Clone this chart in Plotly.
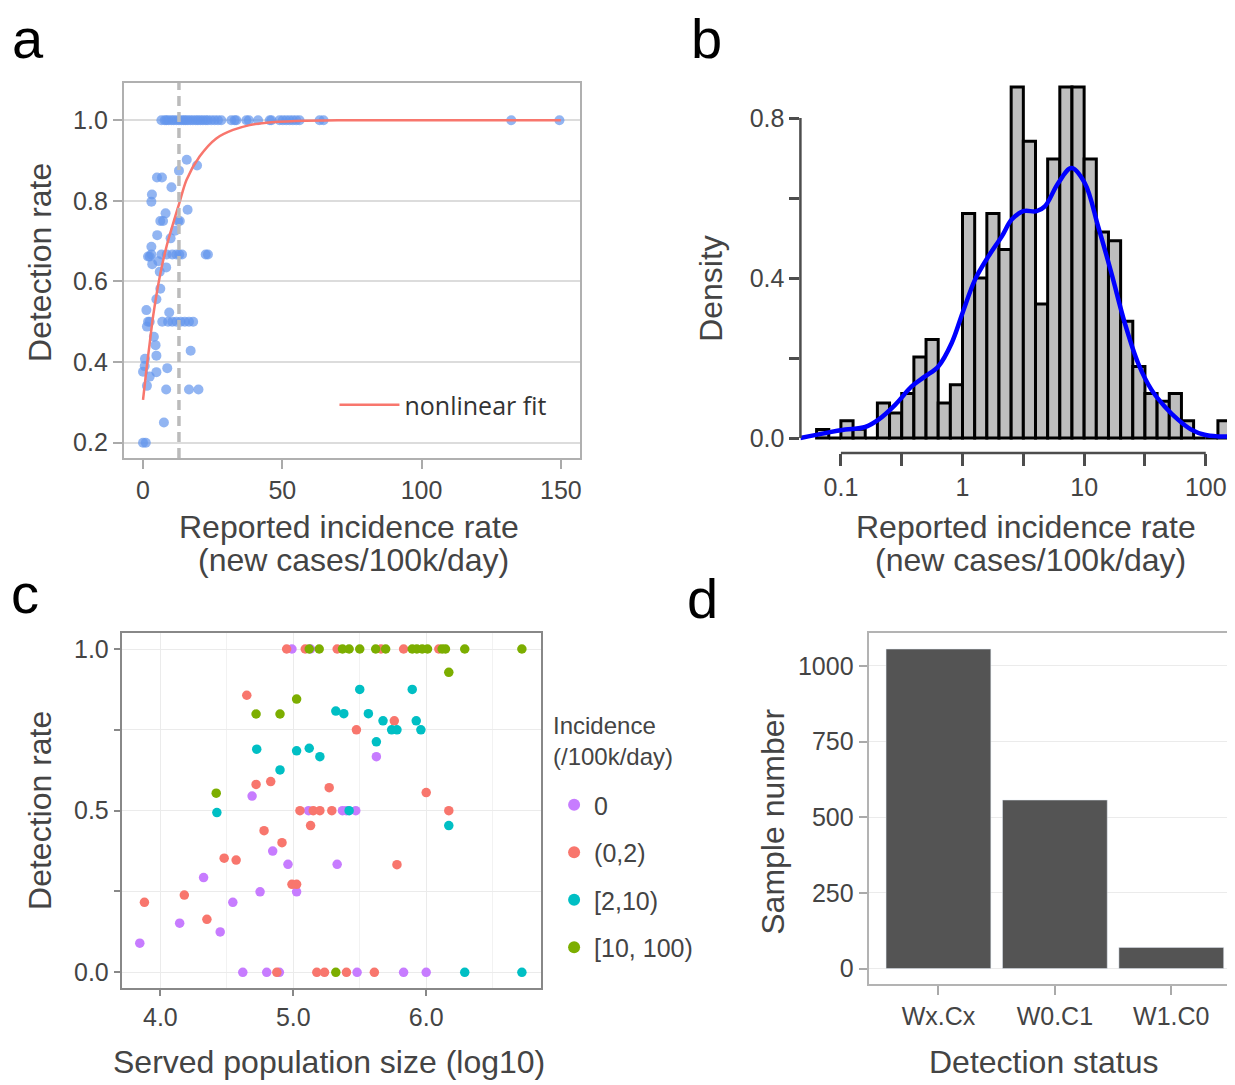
import plotly.graph_objects as go

# ---- panel a: detection rate vs reported incidence ----
a_inc = [6.6, 7.8, 8.4, 9.2, 10.2, 11.0, 12.0, 12.9, 13.8, 14.6, 15.3, 16.1, 17.0, 17.9,
         18.9, 19.7, 20.6, 21.5, 22.5, 23.3, 24.5, 25.7, 26.9, 28.1, 31.7, 32.9, 33.5,
         37.1, 38.0, 41.3, 45.5, 46.1, 49.0, 50.2, 51.4, 52.6, 53.8, 55.0, 56.2, 63.4,
         64.8, 132.2, 149.5,
         0.0, 1.0, 7.5, 1.4, 8.3, 16.5, 19.9, 4.8, 2.4, 8.7, 0.0, 0.6, 0.7, 17.1, 4.8,
         4.5, 3.9, 1.4, 1.8, 2.4, 6.9, 9.0, 10.5, 12.0, 13.5, 15.0, 16.5, 18.0, 1.2, 9.4,
         4.8, 6.2, 6.0, 8.3, 3.3, 5.5, 1.8, 2.4, 3.0, 6.6, 8.5, 10.5, 12.0, 13.0, 14.0,
         22.5, 23.3, 3.0, 5.1, 9.9, 11.5, 6.2, 7.2, 12.6, 13.2, 8.1, 16.0, 3.0, 3.2, 10.2,
         5.0, 6.8, 12.9, 15.7, 19.4]
a_rate = [1.0] * 43 + \
         [0.2, 0.2, 0.25, 0.341, 0.332, 0.332, 0.332, 0.375, 0.364, 0.385, 0.376, 0.39,
          0.408, 0.428, 0.416, 0.442, 0.463, 0.488, 0.5, 0.5, 0.5, 0.5, 0.5, 0.5, 0.5,
          0.5, 0.5, 0.5, 0.529, 0.523, 0.556, 0.582, 0.624, 0.635, 0.643, 0.65, 0.662,
          0.662, 0.667, 0.667, 0.667, 0.667, 0.667, 0.667, 0.667, 0.667, 0.667, 0.686,
          0.715, 0.707, 0.726, 0.75, 0.75, 0.75, 0.75, 0.769, 0.778, 0.798, 0.816, 0.834,
          0.858, 0.858, 0.875, 0.902, 0.888]
fit_x = [0, 1.2, 2.4, 3.6, 6, 8.4, 13, 15.6, 20.3, 26.3, 32.3, 38.3, 44.3, 55, 70, 100, 150]
fit_y = [0.306, 0.38, 0.447, 0.513, 0.612, 0.686, 0.794, 0.852, 0.91, 0.955, 0.976,
         0.988, 0.994, 0.998, 1.0, 1.0, 1.0]
threshold = 12.9

# ---- panel b: histogram of log10 incidence with density ----
bin_lo = [-1.2, -1.1, -1.0, -0.9, -0.8, -0.7, -0.6, -0.5, -0.4, -0.3, -0.2, -0.1,
          0.0, 0.1, 0.2, 0.3, 0.4, 0.5, 0.6, 0.7, 0.8, 0.9, 1.0, 1.1, 1.2, 1.3, 1.4,
          1.5, 1.6, 1.7, 1.8, 1.9, 2.0, 2.1]
bin_dens = [0.021, 0.0, 0.043, 0.022, 0.0, 0.0875, 0.0625, 0.111, 0.2025, 0.246,
            0.0875, 0.133, 0.561, 0.40, 0.561, 0.471, 0.8775, 0.742, 0.335, 0.6975,
            0.8775, 0.8775, 0.6975, 0.515, 0.493, 0.292, 0.179, 0.111, 0.092, 0.111,
            0.043, 0.0, 0.0, 0.043]
kde_x = [-1.334, -1.101, -0.964, -0.8, -0.691, -0.554, -0.418, -0.308, -0.199, -0.089,
         0.0, 0.103, 0.213, 0.323, 0.404, 0.499, 0.609, 0.677, 0.787, 0.896, 1.005,
         1.115, 1.224, 1.334, 1.443, 1.553, 1.662, 1.772, 1.881, 1.99, 2.1, 2.223]
kde_y = [0.0, 0.014, 0.021, 0.0275, 0.046, 0.083, 0.129, 0.154, 0.179, 0.2375, 0.3125,
         0.396, 0.454, 0.504, 0.546, 0.567, 0.567, 0.579, 0.6375, 0.675, 0.6375, 0.529,
         0.4125, 0.2875, 0.1875, 0.121, 0.079, 0.046, 0.021, 0.008, 0.004, 0.004]
log_ticks = [-1, -0.5, 0, 0.5, 1, 1.5, 2]
log_labels = ['0.1', '', '1', '', '10', '', '100']

# ---- panel c: detection rate vs served population, by incidence class ----
groups = ['0', '(0,2)', '[2,10)', '[10, 100)']
group_colors = ['#C77CFF', '#F8766D', '#00BFC4', '#7CAE00']
c_pop = [
    [4.99, 5.13, 5.625, 4.69, 5.115, 5.37, 5.40, 5.47, 4.845, 4.96, 5.33, 4.325, 4.75,
     5.025, 4.545, 4.145, 4.45, 3.845, 4.62, 4.80, 4.895, 5.48, 5.83, 6.0],
    [4.95, 5.09, 5.33, 5.66, 5.83, 6.095, 4.65, 5.76, 5.475, 4.72, 4.83, 5.27, 6.0,
     5.05, 5.15, 5.20, 5.29, 6.17, 5.13, 4.78, 4.915, 4.48, 4.57, 5.78, 4.99, 5.025,
     4.18, 3.88, 4.35, 4.876, 5.177, 5.235, 5.40, 5.61],
    [5.50, 5.895, 5.32, 5.38, 5.565, 5.675, 5.925, 5.74, 5.78, 5.96, 5.625, 4.725,
     5.025, 5.12, 5.20, 4.90, 4.425, 5.42, 6.17, 6.29, 6.72],
    [5.12, 5.195, 5.37, 5.42, 5.50, 5.62, 5.695, 5.895, 5.93, 5.97, 6.01, 6.12, 6.145,
     6.29, 6.72, 6.17, 5.025, 4.72, 4.90, 4.42, 5.32],
]
c_rate = [
    [1.0, 1.0, 0.667, 0.545, 0.5, 0.5, 0.5, 0.5, 0.375, 0.334, 0.334, 0.293, 0.249,
     0.249, 0.2165, 0.152, 0.125, 0.09, 0, 0, 0, 0, 0, 0],
    [1.0, 1.0, 1.0, 1.0, 1.0, 1.0, 0.857, 0.778, 0.75, 0.581, 0.59, 0.571, 0.556, 0.5,
     0.5, 0.5, 0.5, 0.5, 0.454, 0.438, 0.401, 0.353, 0.347, 0.333, 0.272, 0.272, 0.239,
     0.2165, 0.164, 0, 0, 0, 0, 0],
    [0.875, 0.875, 0.808, 0.80, 0.80, 0.778, 0.778, 0.75, 0.75, 0.75, 0.713, 0.69,
     0.685, 0.693, 0.667, 0.626, 0.494, 0.5, 0.454, 0, 0],
    [1.0] * 15 + [0.928, 0.845, 0.799, 0.799, 0.554, 0],
]

# ---- panel d: samples per detection status ----
status = ['Wx.Cx', 'W0.C1', 'W1.C0']
n_samples = [1056, 557, 70]

# the page body adds an 8px margin, so the figure is drawn that much smaller
OFF = 8
W, H = 1235 - OFF, 1085 - OFF
SANS = 'Liberation Sans, Arial, sans-serif'
TXT = '#444444'
TITLE_SIZE = 32


def px(p):
    return (p - OFF) / W


def py(p):
    return 1 - (p - OFF) / H


fig = go.Figure()

# panel a
fig.add_trace(go.Scatter(x=a_inc, y=a_rate, mode='markers', xaxis='x', yaxis='y',
                         marker=dict(color='#6495ED', size=10, opacity=0.7),
                         showlegend=False, hoverinfo='x+y'))
fig.add_trace(go.Scatter(x=fit_x, y=fit_y, mode='lines', xaxis='x', yaxis='y',
                         line=dict(color='#F8766D', width=2.5, shape='spline', smoothing=0.8),
                         name='nonlinear fit', legend='legend2'))

# panel b
fig.add_trace(go.Bar(x=[b + 0.05 for b in bin_lo], y=bin_dens, width=0.1,
                     xaxis='x2', yaxis='y2', showlegend=False,
                     marker=dict(color='#BEBEBE', line=dict(color='black', width=3))))
fig.add_trace(go.Scatter(x=kde_x, y=kde_y, mode='lines', xaxis='x2', yaxis='y2',
                         line=dict(color='#0000FF', width=4.5, shape='spline'),
                         showlegend=False))

# panel c
for g, col, xs, ys in zip(groups, group_colors, c_pop, c_rate):
    fig.add_trace(go.Scatter(x=xs, y=ys, mode='markers', xaxis='x3', yaxis='y3',
                             name=g, legendgroup=g, legend='legend',
                             marker=dict(color=col, size=9.5)))

# panel d
fig.add_trace(go.Bar(x=status, y=n_samples, width=0.9, xaxis='x4', yaxis='y4',
                     marker=dict(color='#545454'), showlegend=False))

tick_font = dict(family=SANS, size=25, color=TXT)

fig.update_layout(
    width=W, height=H,
    margin=dict(l=0, r=0, t=0, b=0),
    paper_bgcolor='white', plot_bgcolor='white',
    xaxis=dict(domain=[px(124), px(580.7)], anchor='y', range=[-6.9, 156.8],
               tickvals=[0, 50, 100, 150], ticks='outside', ticklen=9, tickwidth=2,
               tickcolor='#AAAAAA', showline=True, mirror=True, linecolor='#B0B0B0',
               linewidth=2, showgrid=False, zeroline=False, tickfont=tick_font),
    yaxis=dict(domain=[py(458), py(83)], anchor='x', range=[0.162, 1.0925],
               tickvals=[0.2, 0.4, 0.6, 0.8, 1.0],
               ticktext=['0.2', '0.4', '0.6', '0.8', '1.0'],
               ticks='outside', ticklen=9, tickwidth=2, tickcolor='#AAAAAA',
               showline=True, mirror=True, linecolor='#B0B0B0', linewidth=2,
               showgrid=True, gridcolor='#DCDCDC', gridwidth=1.5, zeroline=False,
               tickfont=tick_font),
    xaxis2=dict(domain=[px(801.7), 1.0], anchor='y2', range=[-1.333, 2.224],
                tickvals=log_ticks, ticktext=log_labels, ticks='outside', ticklen=12,
                tickwidth=2.5, tickcolor='#4D4D4D', showline=False, showgrid=False,
                zeroline=False, tickfont=tick_font),
    yaxis2=dict(domain=[py(453), py(70)], anchor='x2', range=[-0.0375, 0.92],
                tickvals=[0, 0.2, 0.4, 0.6, 0.8], ticktext=['0.0', '', '0.4', '', '0.8'],
                ticks='outside', ticklen=10, tickwidth=2.5, tickcolor='#4D4D4D',
                showline=False, showgrid=False, zeroline=False, tickfont=tick_font),
    xaxis3=dict(domain=[px(121.7), px(542.3)], anchor='y3', range=[3.7075, 6.867],
                tickvals=[4, 5, 6], ticktext=['4.0', '5.0', '6.0'], ticks='outside',
                ticklen=6, tickwidth=1.5, tickcolor='#888888', showline=True, mirror=True,
                linecolor='#888888', linewidth=1.5, showgrid=True, gridcolor='#EBEBEB',
                minor=dict(tickvals=[4.5, 5.5, 6.5], showgrid=True, gridcolor='#F2F2F2',
                           ticks=''),
                zeroline=False, tickfont=tick_font),
    yaxis3=dict(domain=[py(988.3), py(633.3)], anchor='x3', range=[-0.0495, 1.0486],
                tickvals=[0, 0.25, 0.5, 0.75, 1.0], ticktext=['0.0', '', '0.5', '', '1.0'],
                ticks='outside', ticklen=6, tickwidth=1.5, tickcolor='#888888',
                showline=True, mirror=True, linecolor='#888888', linewidth=1.5,
                showgrid=True, gridcolor='#EBEBEB', zeroline=False, tickfont=tick_font),
    xaxis4=dict(domain=[px(870), 1.0], anchor='y4', type='category', range=[-0.6, 2.53],
                ticks='outside', ticklen=9, tickwidth=2, tickcolor='#AAAAAA',
                showline=True, mirror=True, linecolor='#B3B3B3', linewidth=2,
                showgrid=False, zeroline=False, tickfont=tick_font),
    yaxis4=dict(domain=[py(984), py(633)], anchor='x4', range=[-51, 1109],
                tickvals=[0, 250, 500, 750, 1000], ticks='outside', ticklen=8,
                tickwidth=2, tickcolor='#AAAAAA', showline=True, linecolor='#B3B3B3',
                linewidth=2, showgrid=True, gridcolor='#EBEBEB', zeroline=False,
                tickfont=tick_font),
    legend=dict(x=px(555), y=py(782), xanchor='left', yanchor='top',
                font=dict(family=SANS, size=25, color=TXT), bgcolor='rgba(0,0,0,0)',
                itemsizing='constant', tracegroupgap=12, traceorder='grouped'),
    legend2=dict(x=px(335), y=py(405), xanchor='left', yanchor='middle',
                 font=dict(family='Open Sans, sans-serif', size=25, color='#333333'),
                 bgcolor='rgba(0,0,0,0)', itemwidth=60),
    bargap=0.1,
)

# dashed threshold in panel a, hand-drawn base-R style axes in panel b
fig.add_shape(type='line', xref='x', yref='y domain', x0=threshold, x1=threshold,
              y0=0, y1=1, line=dict(color='#BBBBBB', width=3.5, dash='10px,6px'))
fig.add_shape(type='line', xref='x2', yref='y2 domain', x0=log_ticks[0], x1=log_ticks[-1],
              y0=0, y1=0, line=dict(color='#4D4D4D', width=2.5))
fig.add_shape(type='line', xref='x2 domain', yref='y2', x0=0, x1=0, y0=0, y1=0.8,
              line=dict(color='#4D4D4D', width=2.5))

# titles and panel letters
texts = [
    ('a', 28, 38, 56, 0, 'black'), ('b', 708, 38, 56, 0, 'black'),
    ('c', 25, 593, 56, 0, 'black'), ('d', 704, 598, 56, 0, 'black'),
    ('Detection rate', 40, 262, TITLE_SIZE, -90, TXT),
    ('Reported incidence rate', 350, 527, TITLE_SIZE, 0, TXT),
    ('(new cases/100k/day)', 354, 560, TITLE_SIZE, 0, TXT),
    ('Density', 712, 288, TITLE_SIZE, -90, TXT),
    ('Reported incidence rate', 1028, 527, TITLE_SIZE, 0, TXT),
    ('(new cases/100k/day)', 1032, 560, TITLE_SIZE, 0, TXT),
    ('Detection rate', 40, 810, TITLE_SIZE, -90, TXT),
    ('Served population size (log10)', 330, 1062, TITLE_SIZE, 0, TXT),
    ('Sample number', 774, 822, TITLE_SIZE, -90, TXT),
    ('Detection status', 1045, 1062, TITLE_SIZE, 0, TXT),
]
for t, x, y, size, ang, col in texts:
    fig.add_annotation(text=t, x=px(x), y=py(y), xref='paper', yref='paper',
                       xanchor='center', yanchor='middle', showarrow=False,
                       textangle=ang, font=dict(family=SANS, size=size, color=col))

fig.add_annotation(text='Incidence<br>(/100k/day)', x=px(552), y=py(741), xref='paper',
                   yref='paper', xanchor='left', yanchor='middle', align='left',
                   showarrow=False, font=dict(family=SANS, size=24, color=TXT))

fig.write_html("out.html")
